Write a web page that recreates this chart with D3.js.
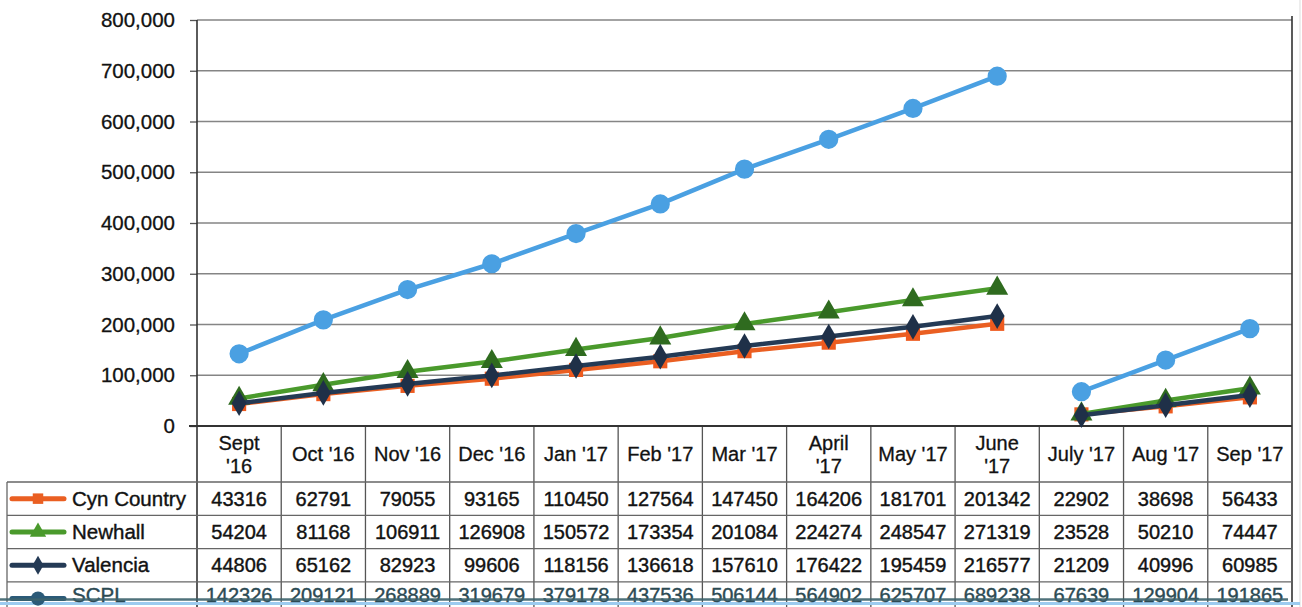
<!DOCTYPE html>
<html>
<head>
<meta charset="utf-8">
<script src="https://cdn.jsdelivr.net/npm/d3@7"></script>
<style>
  html, body { margin: 0; padding: 0; background: #fff; }
  svg { display: block; font-family: "Liberation Sans", Arial, sans-serif; }
</style>
</head>
<body>
<svg id="chart" width="1302" height="607"></svg>
<script>
// ---- data ----
const months = ["Sept\n'16", "Oct '16", "Nov '16", "Dec '16", "Jan '17", "Feb '17", "Mar '17",
                "April\n'17", "May '17", "June\n'17", "July '17", "Aug '17", "Sep '17"];
const fiscalYear = ["FY16-17","FY16-17","FY16-17","FY16-17","FY16-17","FY16-17","FY16-17",
                    "FY16-17","FY16-17","FY16-17","FY17-18","FY17-18","FY17-18"];
const seriesNames = ["Cyn Country", "Newhall", "Valencia", "SCPL"];
const cynCountry = [43316, 62791, 79055, 93165, 110450, 127564, 147450, 164206, 181701, 201342, 22902, 38698, 56433];
const newhall    = [54204, 81168, 106911, 126908, 150572, 173354, 201084, 224274, 248547, 271319, 23528, 50210, 74447];
const valencia   = [44806, 65162, 82923, 99606, 118156, 136618, 157610, 176422, 195459, 216577, 21209, 40996, 60985];
const scpl       = [142326, 209121, 268889, 319679, 379178, 437536, 506144, 564902, 625707, 689238, 67639, 129904, 191865];
const yTicks = [0, 100000, 200000, 300000, 400000, 500000, 600000, 700000, 800000];

// ---- styles ----
const styles = [
  { line: "#ea5f22", fill: "#ee5a1e", shape: d3.symbolSquare, size: 200 },
  { line: "#4a9a2c", fill: "#2f6b1f", shape: d3.symbolTriangle, size: 210 },
  { line: "#243a55", fill: "#1f3048", shape: d3.symbolDiamond, size: 190 },
  { line: "#4aa0e2", fill: "#4aa0e2", shape: d3.symbolCircle, size: 290 }
];
const seriesValues = [cynCountry, newhall, valencia, scpl];

const svg = d3.select("#chart");
const pLeft = 197, pRight = 1292, pTop = 20, zeroY = 426;
const headerH = 56, rowH = 33.3;
const textCol = "#121212";

const x = d3.scaleBand().domain(months).range([pLeft, pRight]);
const y = d3.scaleLinear().domain([0, 800000]).range([zeroY, pTop]);

// gridlines
svg.append("g").selectAll("line").data(yTicks.filter(d => d > 0)).join("line")
  .attr("x1", pLeft).attr("x2", pRight)
  .attr("y1", d => y(d)).attr("y2", d => y(d))
  .attr("stroke", "#858585").attr("stroke-width", 1.3);

// y axis
const yAxis = svg.append("g").attr("transform", `translate(${pLeft},0)`)
  .call(d3.axisLeft(y).tickValues(yTicks).tickFormat(d3.format(",")).tickSize(7).tickPadding(15));
yAxis.select(".domain").remove();
yAxis.selectAll(".tick line").attr("stroke", "#555").attr("stroke-width", 1.3);
yAxis.selectAll("text").attr("font-size", 20.5).attr("fill", textCol)
  .attr("stroke", textCol).attr("stroke-width", 0.3)
  .attr("font-family", "'Liberation Sans', Arial, sans-serif");

// table geometry
const tableTop = zeroY;
const rowsTop = tableTop + headerH;
const tableBottom = 607;

// vertical lines (left axis, column separators, right border)
svg.append("line").attr("x1", pLeft).attr("x2", pLeft).attr("y1", pTop).attr("y2", tableBottom)
  .attr("stroke", "#333").attr("stroke-width", 1.6);
svg.append("line").attr("x1", pRight).attr("x2", pRight).attr("y1", pTop - 4).attr("y2", tableBottom)
  .attr("stroke", "#333").attr("stroke-width", 1.6);
svg.append("line").attr("x1", pRight + 8).attr("x2", pRight + 8).attr("y1", 0).attr("y2", tableBottom)
  .attr("stroke", "#e2e2e2").attr("stroke-width", 1.2);
svg.append("g").selectAll("line").data(months.slice(1)).join("line")
  .attr("x1", d => x(d)).attr("x2", d => x(d))
  .attr("y1", tableTop).attr("y2", tableBottom)
  .attr("stroke", "#555").attr("stroke-width", 1.3);

// horizontal table lines
svg.append("line").attr("x1", pLeft - 8).attr("x2", pRight).attr("y1", zeroY).attr("y2", zeroY)
  .attr("stroke", "#333").attr("stroke-width", 1.8);
const rowLines = d3.range(seriesNames.length).map(i => rowsTop + i * rowH);
svg.append("g").selectAll("line").data(rowLines).join("line")
  .attr("x1", 7).attr("x2", pRight).attr("y1", d => d).attr("y2", d => d)
  .attr("stroke", "#666").attr("stroke-width", 1.3);
svg.append("line").attr("x1", 7).attr("x2", 7).attr("y1", rowsTop).attr("y2", tableBottom)
  .attr("stroke", "#666").attr("stroke-width", 1.3);

// header labels
const hdr = svg.append("g").attr("font-size", 20).attr("fill", textCol)
  .attr("stroke", textCol).attr("stroke-width", 0.3).attr("text-anchor", "middle");
months.forEach(m => {
  const parts = m.split("\n");
  const cx = x(m) + x.bandwidth() / 2;
  const cy = tableTop + headerH / 2;
  const t = hdr.append("text").attr("x", cx);
  parts.forEach((p, i) => {
    t.append("tspan").attr("x", cx)
      .attr("y", cy + 7 + (i - (parts.length - 1) / 2) * 23).text(p);
  });
});

// SCPL row scan overlay line (light)
const scplRowY = rowsTop + 3 * rowH + rowH / 2;
svg.append("line").attr("x1", 0).attr("x2", pRight + 8).attr("y1", scplRowY + 5).attr("y2", scplRowY + 5)
  .attr("stroke", "#9ccbef").attr("stroke-width", 3);

// table values + legend
seriesNames.forEach((name, si) => {
  const cy = rowsTop + si * rowH + rowH / 2;
  const base = si === 3 ? cy + 3 : cy + 7;
  const col = si === 3 ? "#2c4a53" : textCol;
  svg.append("g").attr("font-size", 20).attr("fill", col)
    .attr("stroke", col).attr("stroke-width", 0.4).attr("text-anchor", "middle")
    .selectAll("text").data(seriesValues[si]).join("text")
    .attr("x", (d, i) => x(months[i]) + x.bandwidth() / 2)
    .attr("y", base).text(d => d);
  const st = styles[si];
  const lg = svg.append("g");
  const lcol = si === 3 ? "#2b5a78" : st.line;
  lg.append("line").attr("x1", 12).attr("x2", 64).attr("y1", cy).attr("y2", cy)
    .attr("stroke", lcol).attr("stroke-width", 5).attr("stroke-linecap", "round");
  lg.append("path").attr("d", d3.symbol().type(st.shape).size(st.size * 0.55)())
    .attr("transform", `translate(38,${cy})`).attr("fill", lcol);
  lg.append("text").attr("x", 72).attr("y", base).attr("font-size", 20.5)
    .attr("fill", col).attr("stroke", col).attr("stroke-width", 0.4).text(name);
});
// SCPL row scan overlay line (dark)
svg.append("line").attr("x1", 0).attr("x2", pRight - 4).attr("y1", scplRowY + 1).attr("y2", scplRowY + 1)
  .attr("stroke", "#3d636d").attr("stroke-width", 2.6).attr("opacity", 0.9);

// series lines and markers
const lineGen = d3.line().x(d => x(d.m) + x.bandwidth() / 2).y(d => y(d.v));
const fyGroups = Array.from(new Set(fiscalYear));
seriesValues.forEach((vals, si) => {
  const st = styles[si];
  const pts = vals.map((v, i) => ({ m: months[i], v, fy: fiscalYear[i] }));
  const g = svg.append("g");
  fyGroups.forEach(fy => {
    g.append("path").datum(pts.filter(p => p.fy === fy))
      .attr("d", lineGen).attr("fill", "none")
      .attr("stroke", st.line).attr("stroke-width", 4.5).attr("stroke-linejoin", "round");
  });
  g.selectAll("path.mk").data(pts).join("path").attr("class", "mk")
    .attr("d", d3.symbol().type(st.shape).size(st.size)())
    .attr("transform", d => `translate(${x(d.m) + x.bandwidth() / 2},${y(d.v)})`)
    .attr("fill", st.fill);
});
</script>
</body>
</html>
